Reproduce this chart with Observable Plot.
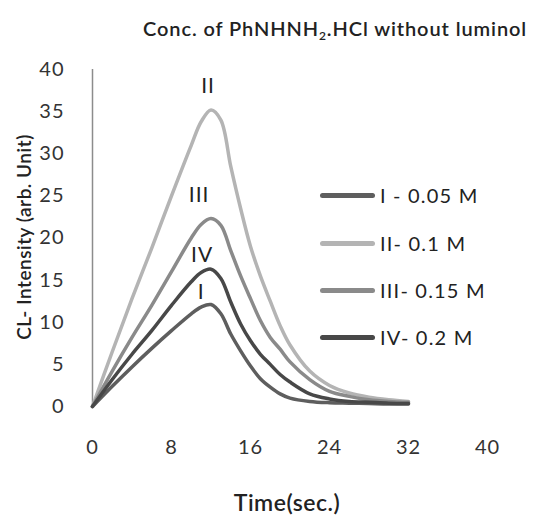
<!DOCTYPE html>
<html>
<head>
<meta charset="utf-8">
<script src="https://cdn.jsdelivr.net/npm/d3@7"></script>
<script src="https://cdn.jsdelivr.net/npm/@observablehq/plot@0.6"></script>
<style>
  html, body { margin: 0; padding: 0; background: #fff; }
  #wrap { position: relative; width: 542px; height: 515px; font-family: Lato, "Noto Sans", sans-serif; color: #222; }
  #wrap svg { position: absolute; left: 0; top: 0; }
  .ov { position: absolute; white-space: nowrap; }
  #title { left: 143px; top: 16px; font-size: 20px; font-weight: 600; letter-spacing: 0.9px; }
  #title sub { font-size: 12px; vertical-align: -4px; line-height: 0; }
  #ylab { left: 23px; top: 237px; font-size: 19px; font-weight: 600; letter-spacing: 0.5px; transform: translate(-50%, -50%) rotate(-90deg); }
  #xlab { left: 287px; top: 502px; font-size: 23px; font-weight: 600; letter-spacing: 0.5px; transform: translate(-50%, -50%); }
  .leg { position: absolute; left: 320px; display: flex; align-items: center; font-size: 20px; color: #222; letter-spacing: 1.2px; }
  .leg span.sw { display: inline-block; width: 55px; height: 5px; border-radius: 2.5px; margin-right: 5px; }
</style>
</head>
<body>
<div id="wrap">
  <div id="title" class="ov">Conc. of PhNHNH<sub>2</sub>.HCl without luminol</div>
  <div id="ylab" class="ov">CL- Intensity (arb. Unit)</div>
  <div id="xlab" class="ov">Time(sec.)</div>
  <div id="legend"></div>
</div>
<script>
const time = [0, 2, 4, 6, 8, 10, 11, 12, 13, 14, 15, 16, 17, 18, 19, 20, 22, 24, 26, 28, 30, 32];
const seriesI   = [0, 2.4, 4.7, 6.9, 9.0, 11.0, 11.8, 12.1, 11.0, 8.6, 6.6, 4.8, 3.3, 2.3, 1.5, 1.0, 0.6, 0.45, 0.4, 0.35, 0.3, 0.3];
const seriesII  = [0, 6.5, 12.8, 18.8, 25.0, 31.0, 33.8, 35.2, 34.0, 28.5, 23.5, 19.0, 15.5, 12.5, 9.6, 7.3, 4.2, 2.5, 1.6, 1.1, 0.8, 0.6];
const seriesIII = [0, 4.2, 8.2, 12.0, 16.0, 20.0, 21.6, 22.3, 21.5, 18.5, 15.5, 12.8, 10.2, 8.2, 6.8, 5.3, 3.2, 1.8, 1.2, 0.8, 0.6, 0.5];
const seriesIV  = [0, 3.2, 6.2, 9.0, 12.0, 14.8, 15.9, 16.3, 15.2, 12.4, 9.8, 7.8, 6.2, 5.0, 3.8, 2.9, 1.5, 0.9, 0.6, 0.5, 0.4, 0.35];

const seriesNames = ["I", "II", "III", "IV"];
const legendLabels = ["I - 0.05 M", "II- 0.1 M", "III- 0.15 M", "IV- 0.2 M"];
const colors = ["#5e5e5e", "#b4b4b4", "#8a8a8a", "#484848"];

const labelNames = ["II", "III", "IV", "I"];
const labelTime = [11.7, 10.8, 11.1, 11.0];
const labelValue = [38.0, 25.1, 17.9, 13.6];

const xTicks = [0, 8, 16, 24, 32, 40];
const yTicks = [0, 5, 10, 15, 20, 25, 30, 35, 40];

const allSeries = [seriesI, seriesII, seriesIII, seriesIV];
const rows = [];
allSeries.forEach((vals, s) => vals.forEach((v, i) => rows.push({series: seriesNames[s], t: time[i], v})));
const labels = labelNames.map((n, i) => ({n, t: labelTime[i], v: labelValue[i]}));

const chart = Plot.plot({
  width: 542,
  height: 515,
  marginLeft: 92,
  marginRight: 55,
  marginTop: 69,
  marginBottom: 109,
  style: {fontFamily: "Lato, 'Noto Sans', sans-serif", fontSize: "20px", color: "#333", background: "transparent", letterSpacing: "1px"},
  x: {domain: [0, 40], ticks: xTicks, tickSize: 0, tickPadding: 33, label: null},
  y: {domain: [0, 40], ticks: yTicks, tickSize: 0, tickPadding: 28, label: null},
  color: {domain: seriesNames, range: colors},
  marks: [
    Plot.ruleX([0], {stroke: "#8c8c8c", strokeWidth: 1.5}),
    Plot.line(rows, {x: "t", y: "v", z: "series", stroke: "series", strokeWidth: 3.5, curve: "catmull-rom"}),
    Plot.text(labels, {x: "t", y: "v", text: "n", fontSize: 21, fill: "#222"})
  ]
});
document.getElementById("wrap").prepend(chart);

const legendTops = [195, 243, 290, 337];
const legend = document.getElementById("legend");
legendLabels.forEach((lab, i) => {
  const d = document.createElement("div");
  d.className = "leg";
  d.style.top = (legendTops[i] - 13) + "px";
  d.style.height = "26px";
  d.innerHTML = `<span class="sw" style="background:${colors[i]}"></span><span>${lab}</span>`;
  legend.appendChild(d);
});
</script>
</body>
</html>
